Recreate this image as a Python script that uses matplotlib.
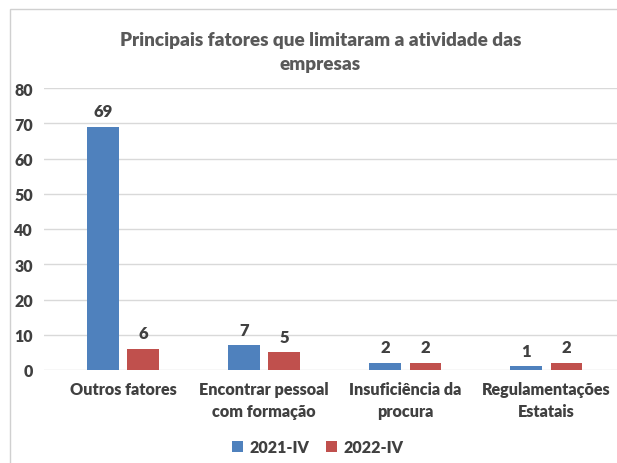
import matplotlib
matplotlib.use('Agg')
import matplotlib.pyplot as plt
import matplotlib.patches as patches
import numpy as np

categorias = ['Outros fatores', 'Encontrar pessoal\ncom formação', 'Insuficiência da\nprocura', 'Regulamentações\nEstatais']
serie_2021 = [69, 7, 2, 1]
serie_2022 = [6, 5, 2, 2]
nomes_series = ['2021-IV', '2022-IV']
yticks = [0, 10, 20, 30, 40, 50, 60, 70, 80]

plt.rcParams['font.family'] = ['Lato', 'DejaVu Sans']
cor_txt = '#404040'
peso = 'heavy'

fig = plt.figure(figsize=(6.17, 4.64), dpi=100)
# moldura do gráfico
fig.patches.append(patches.Rectangle((10/617, -0.1), 1.2, 1 - 10/464 + 0.1, transform=fig.transFigure,
                                     fill=False, edgecolor='#d0d0d0', linewidth=1.0))
ax = fig.add_axes([44/617, 1 - 371/464, 1 - 44/617, (371 - 89)/464])

x = np.arange(len(categorias))
w = 0.225
b1 = ax.bar(x - 0.143, serie_2021, w, color='#4F81BD', label=nomes_series[0], zorder=3)
b2 = ax.bar(x + 0.143, serie_2022, w, color='#C0504D', label=nomes_series[1], zorder=3)
for bars in (b1, b2):
    for r in bars:
        ax.text(r.get_x() + r.get_width()/2, r.get_height() + 2.2, str(int(r.get_height())),
                ha='center', va='bottom', fontsize=12, fontweight=peso, color=cor_txt)

ax.set_xlim(-0.56, 3.50)
ax.set_ylim(0, 80)
ax.set_yticks(yticks)
ax.grid(axis='y', color='#d9d9d9', linewidth=1.0, zorder=0)
for s in ax.spines.values():
    s.set_visible(False)
ax.tick_params(axis='both', length=0, labelsize=11.5, colors=cor_txt)
ax.tick_params(axis='y', pad=8)
ax.tick_params(axis='x', pad=8)
ax.set_xticks(x)
ax.set_xticklabels(categorias, fontweight=peso, linespacing=1.45, fontsize=11.6)
for t in ax.get_yticklabels():
    t.set_fontweight(peso)

fig.text(0.519, 1 - 32/464, 'Principais fatores que limitaram a atividade das\nempresas', ha='center', va='top',
         fontsize=13.6, fontweight=peso, color='#595959', linespacing=1.5)

fig.legend(handles=[b1, b2], loc='center', bbox_to_anchor=(0.515, 1 - 448/464), ncol=2, frameon=False,
           prop={'size': 11.5, 'weight': peso}, labelcolor=cor_txt, handlelength=0.7, handleheight=0.7,
           handletextpad=0.4, columnspacing=1.0)

fig.savefig('out.png', dpi=100)
